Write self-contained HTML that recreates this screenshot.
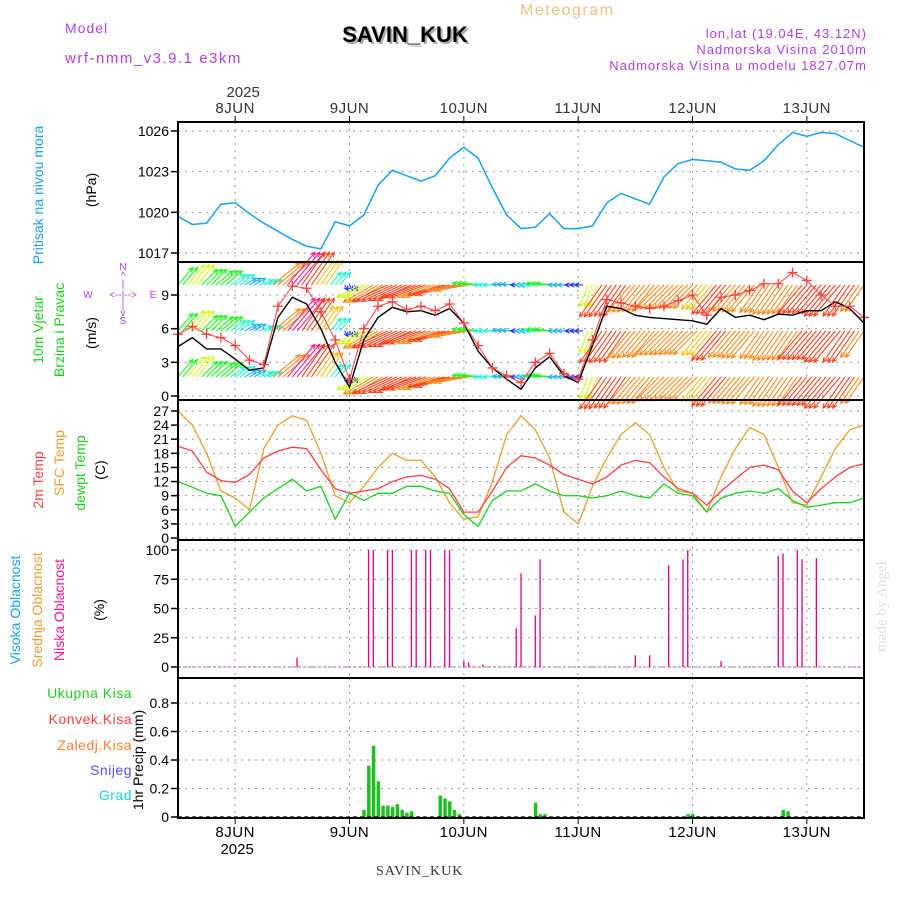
<!DOCTYPE html>
<html><head><meta charset="utf-8"><style>
html,body{margin:0;padding:0;background:#fff;}
svg{display:block;font-family:"Liberation Sans",sans-serif;}
</style></head><body>
<svg id="chart" width="900" height="900" viewBox="0 0 900 900">
<text x="65" y="33" fill="#b040e0" font-size="14" letter-spacing="1">Model</text>
<text x="65" y="63" fill="#b040e0" font-size="15" letter-spacing="1.5">wrf-nmm_v3.9.1 e3km</text>
<text x="520" y="15" fill="#f0c080" font-size="16" letter-spacing="1.5">Meteogram</text>
<text x="407" y="44" fill="#aaa" font-size="22" font-weight="bold" text-anchor="middle">SAVIN_KUK</text>
<text x="405" y="42" fill="#000" font-size="22" font-weight="bold" text-anchor="middle">SAVIN_KUK</text>
<text x="867" y="38" fill="#b040e0" font-size="13" text-anchor="end" letter-spacing="1">lon,lat (19.04E, 43.12N)</text>
<text x="867" y="54" fill="#b040e0" font-size="13" text-anchor="end" letter-spacing="1">Nadmorska Visina 2010m</text>
<text x="867" y="70" fill="#b040e0" font-size="13" text-anchor="end" letter-spacing="1">Nadmorska Visina u modelu 1827.07m</text>
<text x="376" y="875" fill="#333" font-size="14" font-family="Liberation Serif,serif" letter-spacing="1">SAVIN_KUK</text>
<text transform="translate(886,652) rotate(-90)" fill="#d8e0d8" font-size="15" font-family="Liberation Serif,serif">made by Angel</text>
<g id="g"></g>
</svg>
<script>
const pressure=[1019.7,1019.1,1019.2,1020.6,1020.7,1019.9,1019.2,1018.6,1018.0,1017.5,1017.3,1019.3,1019.0,1019.8,1022.0,1023.1,1022.7,1022.3,1022.7,1024.0,1024.8,1024.0,1021.8,1019.8,1018.8,1018.9,1019.9,1018.8,1018.8,1019.0,1020.7,1021.4,1021.0,1020.6,1022.6,1023.6,1023.9,1023.8,1023.7,1023.2,1023.1,1023.8,1025.0,1025.9,1025.6,1025.9,1025.8,1025.3,1024.8];
const windSpeed=[4.4,5.2,4.2,4.2,3.3,2.3,2.5,7.0,8.8,8.2,6.0,3.0,0.8,5.0,7.0,7.9,7.5,7.6,7.2,7.8,6.5,4.0,2.5,1.5,0.6,2.5,3.5,1.8,1.2,4.5,8.0,7.8,7.2,7.0,6.9,6.8,6.7,6.4,7.8,7.0,7.2,6.8,7.3,7.2,7.6,7.6,8.4,7.8,6.5];
const windGust=[5.5,6.2,5.5,5.2,4.5,3.2,2.8,8.0,9.8,9.6,7.5,5.0,1.5,6.0,8.0,8.4,7.7,8.0,7.6,8.2,6.5,4.5,2.5,1.8,1.2,3.0,3.8,2.0,1.5,5.0,8.6,8.3,8.0,7.8,8.0,8.5,9.0,7.2,8.8,9.0,9.4,10.0,10.0,11.0,10.3,9.0,8.0,8.0,7.0];
const windDir=[40,40,45,50,55,60,70,50,40,35,35,40,150,240,240,245,245,250,250,255,260,275,270,275,270,270,275,270,270,200,215,215,220,220,225,225,225,220,220,220,220,215,215,215,220,220,220,215,215];
const windLevels=[1.7,5.8,9.9];
const temp2m=[19.5,18.5,14.0,12.2,11.8,13.5,17.0,18.5,19.3,19.0,14.5,10.5,9.5,10.0,10.5,12.0,13.0,13.3,12.5,10.5,5.5,5.5,10.0,15.0,17.5,17.0,15.5,13.5,12.5,11.5,13.0,15.5,16.5,16.0,13.0,10.5,9.5,7.0,10.0,12.5,15.0,15.5,14.5,10.0,7.5,10.5,13.0,15.0,15.8];
const tempSfc=[27.0,24.0,18.0,10.0,8.5,6.0,19.0,24.0,26.0,25.0,18.0,9.0,7.5,11.0,15.0,18.0,16.5,16.5,13.0,7.5,4.0,4.5,12.0,22.0,26.0,23.0,17.0,5.5,3.0,11.0,17.0,22.0,24.5,22.0,15.0,10.0,9.5,5.5,13.0,19.0,23.5,22.0,15.0,7.5,7.0,13.0,19.0,23.0,24.0];
const dewpt=[12.0,10.8,9.5,9.0,2.5,5.5,8.5,10.5,12.5,10.0,11.0,4.0,9.5,8.0,9.5,9.5,11.0,11.0,10.0,9.5,5.0,2.5,8.0,10.0,10.0,11.5,10.0,9.0,9.0,8.5,9.0,10.0,9.0,8.5,11.5,9.5,9.0,5.5,8.5,9.5,10.0,9.5,10.5,8.0,6.5,7.0,7.5,7.5,8.5];
const cloudHours=[25,40,41,44,45,49,50,52,53,56,57,60,61,64,71,72,75,76,96,99,103,106,107,114,126,127,130,131,134];
const cloudLow=[8,100,100,100,100,100,100,100,100,100,100,5,4,2,33,80,44,92,10,10,87,92,100,5,95,97,100,92,93];
const precipHours=[39,40,41,42,43,44,45,46,47,48,49,55,56,57,58,59,75,76,77,107,108,127,128];
const precipTotal=[0.05,0.36,0.5,0.25,0.08,0.08,0.07,0.09,0.05,0.03,0.04,0.15,0.13,0.11,0.05,0.02,0.10,0.02,0.02,0.02,0.02,0.05,0.04];
const dayLabels=['8JUN','9JUN','10JUN','11JUN','12JUN','13JUN'];
const dayHours=[12,36,60,84,108,132];
const pTicks=[1017,1020,1023,1026];
const wTicks=[0,3,6,9];
const tTicks=[0,3,6,9,12,15,18,21,24,27];
const cTicks=[0,25,50,75,100];
const rTicks=[0,0.2,0.4,0.6,0.8];

const NS='http://www.w3.org/2000/svg';
const g=document.getElementById('g');
const X0=178,X1=864,HOURS=144;
function x(h){return X0+h*(X1-X0)/HOURS;}
function xi(i){return x(i*3);}
function mk(tag,attrs,parent){const e=document.createElementNS(NS,tag);for(const k in attrs)e.setAttribute(k,attrs[k]);(parent||g).appendChild(e);return e;}
function scale(v0,v1,y0,y1){return v=>y0+(v-v0)*(y1-y0)/(v1-v0);}
const panels=[
 {top:122,bot:262,sy:scale(1017,1026,253,131),ticks:pTicks,name:'pressure-panel'},
 {top:262,bot:400,sy:scale(0,9,396,295),ticks:wTicks,name:'wind-panel'},
 {top:400,bot:540,sy:scale(0,27,538,411),ticks:tTicks,name:'temperature-panel'},
 {top:540,bot:678,sy:scale(0,100,667,550),ticks:cTicks,name:'cloud-panel'},
 {top:678,bot:818,sy:scale(0,0.8,817,703),ticks:rTicks,name:'precip-panel'}
];
panels.forEach(p=>{
 const pg=mk('g',{});
 
 
 dayHours.forEach(h=>{const l=mk('line',{x1:x(h),x2:x(h),y1:p.top,y2:p.bot,stroke:'#999','stroke-dasharray':'2,5'},pg);
  
  });
 p.ticks.forEach(t=>{const y=p.sy(t);
  const l=mk('line',{x1:X0,x2:X1,y1:y,y2:y,stroke:'#999','stroke-dasharray':'2,5'},pg);
  
  
  mk('line',{x1:X0-7,x2:X0,y1:y,y2:y,stroke:'#000','stroke-width':1.5},pg);
  const tx=mk('text',{x:X0-9,y:y+5,'text-anchor':'end','font-size':14,fill:'#000'},pg);
  tx.textContent=String(t);
  
  });
});
function line(arr,sy,color,name,w){
 const d=arr.map((v,i)=>(i?'L':'M')+xi(i).toFixed(1)+','+sy(v).toFixed(1)).join('');
 const p=mk('path',{d:d,fill:'none',stroke:color,'stroke-width':w||1.3});
 
 
 return p;}
// pressure
line(pressure,panels[0].sy,'#1aa0f0','pressure-line',1.5);
// wind arrows
const sw=panels[1].sy;
function speedColor(s){const hues=[270,235,200,170,120,70,45,30,10,330,320];const k=Math.max(0,Math.min(10,Math.round(s)));return 'hsl('+hues[k]+',95%,55%)';}
const wg=mk('g',{});


windLevels.forEach(lv=>{
 windSpeed.forEach((s,i)=>{
  const L=4.5*s+3,a=windDir[i]*Math.PI/180;
  const c=speedColor(s);
  [-1,0,1].forEach(off=>{
   const bx=x(i*3+off);
   if(bx<X0||bx>X1)return;
   const by=sw(lv);
   const ex=bx+L*Math.sin(a),ey=by-L*Math.cos(a);
   const ar=mk('path',{d:'M'+bx+','+by+'L'+ex+','+ey+'M'+(ex-5*Math.sin(a-0.45))+','+(ey+5*Math.cos(a-0.45))+'L'+ex+','+ey+'L'+(ex-5*Math.sin(a+0.45))+','+(ey+5*Math.cos(a+0.45)),stroke:c,fill:'none','stroke-width':1.1},wg);
   
   
  });
 });
});
line(windSpeed,sw,'#000','wind-speed-line',1.4);
line(windGust,sw,'#ff4040','wind-gust-line',1);
windGust.forEach((v,i)=>{const cx=xi(i),cy=sw(v);
 const m=mk('path',{d:'M'+(cx-5)+','+cy+'h10M'+cx+','+(cy-5)+'v10',stroke:'#ff4040','stroke-width':1.3,fill:'none'});
 
 });
// temps
const st=panels[2].sy;
line(tempSfc,st,'#e8a030','sfc-temp-line',1.3);
line(temp2m,st,'#ff4040','temp-2m-line',1.3);
line(dewpt,st,'#20d020','dewpoint-line',1.3);
// clouds
const sc=panels[3].sy;
const z=mk('line',{x1:X0,x2:X1,y1:sc(0),y2:sc(0),stroke:'#c080c0','stroke-dasharray':'3,2','stroke-width':1.2});


cloudHours.forEach((h,i)=>{const b=mk('line',{x1:x(h),x2:x(h),y1:sc(0),y2:sc(cloudLow[i]),stroke:'#e0007f','stroke-width':1.3});
 
 });
// precip
const sr=panels[4].sy;
precipHours.forEach((h,i)=>{const y=sr(precipTotal[i]);const b=mk('rect',{x:x(h)-1.5,y:y,width:3.5,height:sr(0)-y,fill:'#20c020'});
 
 });
const pz=mk('line',{x1:X0,x2:X1,y1:sr(0),y2:sr(0),stroke:'#000','stroke-dasharray':'4,3','stroke-width':1.2});


// panel borders
panels.forEach(p=>{const r=mk('rect',{x:X0,y:p.top,width:X1-X0,height:p.bot-p.top,fill:'none',stroke:'#000','stroke-width':2});
 
 });
// day labels
dayHours.forEach((h,i)=>{
 const t=mk('text',{x:x(h),y:113,'text-anchor':'middle','font-size':15,fill:'#333','letter-spacing':'0.5'});t.textContent=dayLabels[i];
 
 
 const b=mk('text',{x:x(h),y:837,'text-anchor':'middle','font-size':15,fill:'#000','letter-spacing':'0.5'});b.textContent=dayLabels[i];
 
 
 mk('line',{x1:x(h),x2:x(h),y1:116,y2:122,stroke:'#000'});
 mk('line',{x1:x(h),x2:x(h),y1:818,y2:824,stroke:'#000'});
});
const y1=mk('text',{x:x(12)+8,y:97,'text-anchor':'middle','font-size':15,fill:'#333'});y1.textContent='2025';


const y2=mk('text',{x:x(12)+2,y:854,'text-anchor':'middle','font-size':15,fill:'#000'});y2.textContent='2025';


// rotated labels
function rlab(txt,cx,cy,color,name,size){const t=mk('text',{transform:'translate('+cx+','+cy+') rotate(-90)','text-anchor':'middle','font-size':size||14,fill:color});t.textContent=txt;
 
 }
rlab('Pritisak na nivou mora',43,195,'#1aa0f0','pressure-axis-title');
rlab('(hPa)',96,190,'#000','pressure-unit');
rlab('10m Vjetar',43,330,'#20d020','wind-axis-title');
rlab('Brzina i Pravac',64,330,'#20d020','wind-axis-subtitle');
rlab('(m/s)',96,333,'#000','wind-unit');
rlab('2m Temp',43,480,'#ff4040','temp2m-axis-title');
rlab('SFC Temp',64,463,'#e8a030','sfc-temp-axis-title');
rlab('dewpt Temp',85,473,'#20d020','dewpt-axis-title');
rlab('(C)',105,470,'#000','temp-unit');
rlab('Visoka Oblacnost',20,610,'#1aa0f0','high-cloud-title');
rlab('Srednja Oblacnost',42,610,'#e8a030','mid-cloud-title');
rlab('Niska Oblacnost',64,610,'#ff1493','low-cloud-title');
rlab('(%)',104,610,'#000','cloud-unit');
rlab('1hr Precip (mm)',143,760,'#000','precip-axis-title');
const leg=[['Ukupna Kisa','#20d020',698],['Konvek.Kisa','#ff4040',724],['Zaledj.Kisa','#ff8030',750],['Snijeg','#5050ff',775],['Grad','#20d0d0',800]];
leg.forEach(l=>{const t=mk('text',{x:132,y:l[2],'text-anchor':'end','font-size':14,fill:l[1],'letter-spacing':'0.5'});t.textContent=l[0];
 
 });
// compass
const cg=mk('g',{fill:'#b040e0','font-size':10,'text-anchor':'middle'});


[['N',123,270],['^',123,279],['|',123,287],['W',88,298],['<--|-->',123,298],['E',153,298],['|',123,308],['v',123,316],['S',123,324]].forEach(c=>{const t=mk('text',{x:c[1],y:c[2]},cg);t.textContent=c[0];});
</script>
</body></html>
